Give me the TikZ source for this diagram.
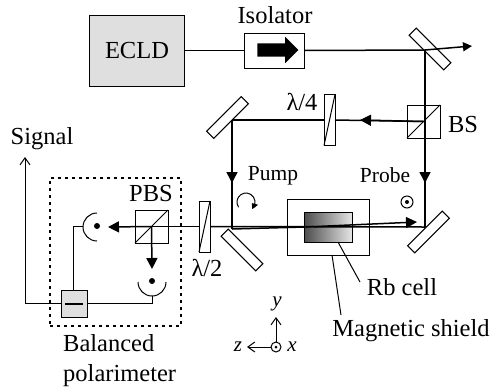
\documentclass[tikz,border=0pt]{standalone}
\usepackage{fontspec}
\setmainfont{Liberation Serif}
\usetikzlibrary{arrows.meta,shapes.arrows,bending}
\tikzset{
  bigtext/.style={font=\fontsize{24.5}{29}\selectfont,inner sep=0pt},
  smalltext/.style={font=\fontsize{21.5}{25}\selectfont,inner sep=0pt},
  axistext/.style={font=\fontsize{21}{25}\selectfont\itshape,inner sep=0pt},
  box/.style={draw,line width=1pt,inner sep=0pt,outer sep=0pt},
  mirror/.style={draw,line width=1pt,fill=white,minimum width=49pt,minimum height=10pt,inner sep=0pt,outer sep=0pt},
  plate/.style={draw,line width=1pt,fill=white,minimum width=11pt,minimum height=51pt,inner sep=0pt,outer sep=0pt},
  cube/.style={draw,line width=1pt,minimum size=33pt,inner sep=0pt,outer sep=0pt},
  dotmark/.style={circle,fill=black,minimum size=6pt,inner sep=0pt},
  beam/.style={line width=1.5pt},
  wire/.style={line width=1pt},
  beamtip/.style={-{Triangle[length=11pt,width=11pt]}},
  thintip/.style={-{Straight Barb[length=7pt,width=10pt]}}
}
\begin{document}
\begin{tikzpicture}[x=1pt,y=-1pt]
\useasboundingbox (0,0) rectangle (494,389);
%the free ends of the beams
\coordinate (topCorner) at (425,50);
\coordinate (outTip) at (472,46);
\coordinate (leftCorner) at (232,120);
\coordinate (pumpCorner) at (232,229);
\coordinate (probeCorner) at (425,227);
\coordinate (cellIn) at (305,227);
\coordinate (cellTip) at (417,222);
\coordinate (qwpTip) at (360,120);
\coordinate (pumpTip) at (232,183);
\coordinate (probeTip) at (425,183);
\coordinate (pbsTip) at (108,227);
\coordinate (downTip) at (152,269);
\coordinate (signalTip) at (25,157);
\coordinate (signalCorner) at (25,303);
\coordinate (upperLead) at (83,226);
\coordinate (upperBend) at (73,226);
\coordinate (lowerLead) at (152,296);
\coordinate (lowerBend) at (152,303);
\coordinate (rbStart) at (338,242);
\coordinate (rbEnd) at (360,282);
\coordinate (shieldStart) at (332,255);
\coordinate (shieldEnd) at (341,315);
\coordinate (axisY) at (276,317);
\coordinate (axisZ) at (247,347);
\coordinate (pumpTurn) at (238.6,207.2);
\coordinate (upperEdge) at (97,213);
\coordinate (lowerEdge) at (138,282);
%the boxes
\node [box,fill=gray!25,minimum width=95pt,minimum height=71pt,bigtext] (ecld) at (137,50.5) {ECLD};
\node [box,minimum width=60pt,minimum height=35pt] (isolator) at (274,50.5) {};
\node [single arrow,fill=black,inner sep=0pt,text height=13pt,minimum width=26pt,minimum height=41pt,single arrow head extend=6.5pt] (isolatorArrow) at (274.5,50) {};
\node [draw,line width=1.5pt,dash pattern=on 3pt off 4pt,minimum width=131pt,minimum height=148pt,inner sep=0pt] (polBox) at (115.5,252) {};
\node [box,fill=gray!25,minimum width=26pt,minimum height=27pt] (balance) at (74,303.5) {};
\node [box,left color=gray!60!black,right color=gray!20,minimum width=48pt,minimum height=30pt] (cell) at (328,227) {};
\node [box,minimum width=82pt,minimum height=56pt] (shield) at (328,227) {};
%the optics
\node [mirror,rotate=-45] (topMirror) at (430,49) {};
\node [mirror,rotate=45] (leftMirror) at (227.5,117.5) {};
\node [mirror,rotate=-45] (pumpMirror) at (242,250) {};
\node [mirror,rotate=45] (probeMirror) at (428.5,232) {};
\node [cube] (bs) at (423.5,121.5) {};
\node [cube] (pbs) at (151.5,226.5) {};
\node [plate] (qwp) at (329.5,120) {};
\node [plate] (hwp) at (204.5,226.5) {};
%drawings of lines
\draw[wire] (ecld.east) -- (isolator.west);
\draw[beam] (isolator.east) -- (topCorner);
\draw[beam,-{Triangle[length=9pt,width=9pt]}] (topCorner) -- (outTip);
\draw[beam] (topCorner) -- (probeCorner);
\draw[beam,beamtip] (topCorner) -- (probeTip);
\draw[beam] (bs.center) -- (qwp.east);
\draw[beam,beamtip] (bs.center) -- (qwpTip);
\draw[beam] (qwp.west) -- (leftCorner);
\draw[beam] (leftCorner) -- (pumpCorner);
\draw[beam,beamtip] (leftCorner) -- (pumpTip);
\draw[beam] (pumpCorner) -- (cellIn);
\draw[beam] (probeCorner) -- (hwp.east);
\draw[beam] (hwp.west) -- (pbs.center);
\draw[beam,beamtip] (cellIn) -- (cellTip);
\draw[beam,beamtip] (pbs.center) -- (pbsTip);
\draw[beam,beamtip] (pbs.center) -- (downTip);
\draw[wire] (bs.south west) -- (bs.north east);
\draw[wire] (pbs.south west) -- (pbs.north east);
\draw[wire] (qwp.north east) -- (qwp.south west);
\draw[wire] (hwp.north east) -- (hwp.south west);
%the detectors and their wires
\draw[wire] (upperEdge) arc[start angle=90,end angle=270,radius=14pt];
\draw[wire] (lowerEdge) arc[start angle=180,end angle=360,radius=14pt];
\node [dotmark] (upperDot) at (97,226) {};
\node [dotmark] (lowerDot) at (152,281) {};
\draw[wire] (upperLead) -- (upperBend) -- (balance.north -| upperBend);
\draw[wire] (lowerLead) -- (lowerBend) -- (balance.east |- lowerBend);
\draw[wire,thintip] (balance.west |- signalCorner) -- (signalCorner) -- (signalTip);
\draw[line width=2pt] ([xshift=4pt]balance.west) -- ([xshift=-4pt]balance.east);
%the polarisation marks
\draw[wire,-{Triangle[length=6pt,width=6pt,bend]}] (pumpTurn) arc[start angle=215,end angle=-50,radius=9pt];
\node [circle,draw,line width=1pt,minimum size=12pt,inner sep=0pt] (probeMark) at (407,202) {};
\node [dotmark,minimum size=4pt] (probeDot) at (407,202) {};
%the axes
\node [circle,draw,line width=1pt,minimum size=10pt,inner sep=0pt] (axisX) at (276,347) {};
\node [dotmark,minimum size=3pt] (axisDot) at (276,347) {};
\draw[wire,thintip] (axisX.north) -- (axisY);
\draw[wire,thintip] (axisX.west) -- (axisZ);
%the leaders
\draw[wire] (rbStart) -- (rbEnd);
\draw[wire] (shieldStart) -- (shieldEnd);
%the labels
\node [bigtext] (isolatorText) at (275,15) {Isolator};
\node [bigtext] (signalText) at (42,139) {Signal};
\node [bigtext] (bsText) at (463,125) {BS};
\node [bigtext] (qwpText) at (302,102) {λ/4};
\node [bigtext] (hwpText) at (207,268) {λ/2};
\node [bigtext] (pbsText) at (151,194) {PBS};
\node [smalltext] (pumpText) at (273,176) {Pump};
\node [smalltext] (probeText) at (385,175) {Probe};
\node [bigtext] (rbText) at (402,287) {Rb cell};
\node [bigtext] (shieldText) at (411,331) {Magnetic shield};
\node [bigtext,align=left,anchor=north west] (polText) at (63,334) {Balanced\\[1pt]polarimeter};
\node [axistext] (yText) at (277,304) {y};
\node [axistext] (xText) at (292,347) {x};
\node [axistext] (zText) at (238,347) {z};
\end{tikzpicture}
\end{document}
